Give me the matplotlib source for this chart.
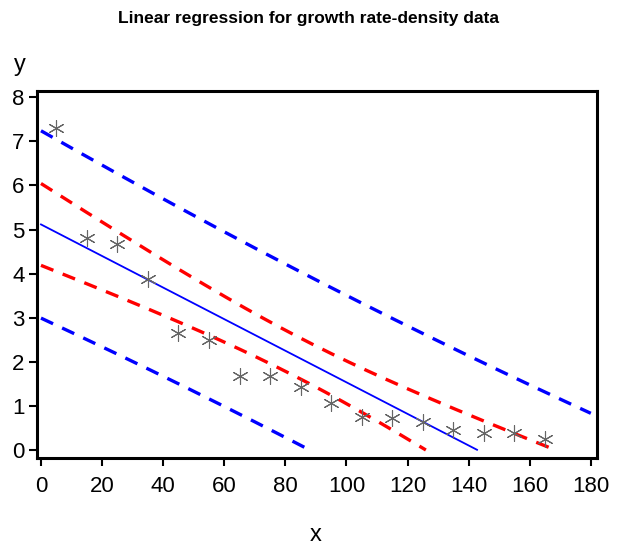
import numpy as np
import matplotlib
matplotlib.use("Agg")
import matplotlib.pyplot as plt

plt.rcParams['font.family'] = ['Liberation Sans', 'DejaVu Sans']

# growth rate-density data
x_obs = np.array([5, 15, 25, 35, 45, 55, 65, 75, 85, 95, 105, 115, 125, 135, 145, 155, 165])
y_obs = np.array([7.30, 4.81, 4.67, 3.88, 2.65, 2.49, 1.68, 1.68, 1.43, 1.07,
                  0.75, 0.73, 0.63, 0.45, 0.39, 0.38, 0.25])

x_ticks = [0, 20, 40, 60, 80, 100, 120, 140, 160, 180]
y_ticks = [0, 1, 2, 3, 4, 5, 6, 7, 8]

t_crit = 2.131  # t(0.975, df=15)

# least squares fit and 95% bands
n = len(x_obs)
b1, b0 = np.polyfit(x_obs, y_obs, 1)
resid = y_obs - (b0 + b1 * x_obs)
s = np.sqrt(np.sum(resid ** 2) / (n - 2))
sxx = np.sum((x_obs - x_obs.mean()) ** 2)

xg = np.linspace(0, 180, 721)
fit = b0 + b1 * xg
h = 1.0 / n + (xg - x_obs.mean()) ** 2 / sxx
ci = t_crit * s * np.sqrt(h)
pi = t_crit * s * np.sqrt(1 + h)


def positive(yv):
    m = yv >= 0
    return xg[m], yv[m]


fig = plt.figure(figsize=(6.18, 5.46), dpi=100)
ax = fig.add_axes([0.0599, 0.1612, 0.906, 0.672])

ax.plot(*positive(fit), color='#0000ff', lw=1.3)
ax.plot(*positive(fit + ci), color='#ff0000', lw=2.4, ls=(0, (4, 3)))
ax.plot(*positive(fit - ci), color='#ff0000', lw=2.4, ls=(0, (4, 3)))
ax.plot(*positive(fit + pi), color='#0000ff', lw=2.4, ls=(0, (4, 3)))
ax.plot(*positive(fit - pi), color='#0000ff', lw=2.4, ls=(0, (4, 3)))

ax.scatter(x_obs, y_obs, marker=(6, 2, 0), s=130, color='#666666', linewidths=0.8, zorder=3)

ax.set_xlim(-1.3, 182)
ax.set_ylim(-0.18, 8.14)
ax.set_xticks(x_ticks)
ax.set_yticks(y_ticks)
ax.tick_params(direction='out', length=6, width=1.5, labelsize=16, pad=3)
ax.tick_params(axis='x', pad=7)
for sp in ax.spines.values():
    sp.set_linewidth(2.2)

fig.text(0.5, 0.967, 'Linear regression for growth rate-density data',
         ha='center', va='center', fontsize=12.5, fontweight='bold')
fig.text(20 / 618, 1 - 65 / 546, 'y', ha='center', va='center', fontsize=17)
fig.text(316 / 618, 1 - 535 / 546, 'x', ha='center', va='center', fontsize=17)

fig.savefig('out.png', dpi=100)
